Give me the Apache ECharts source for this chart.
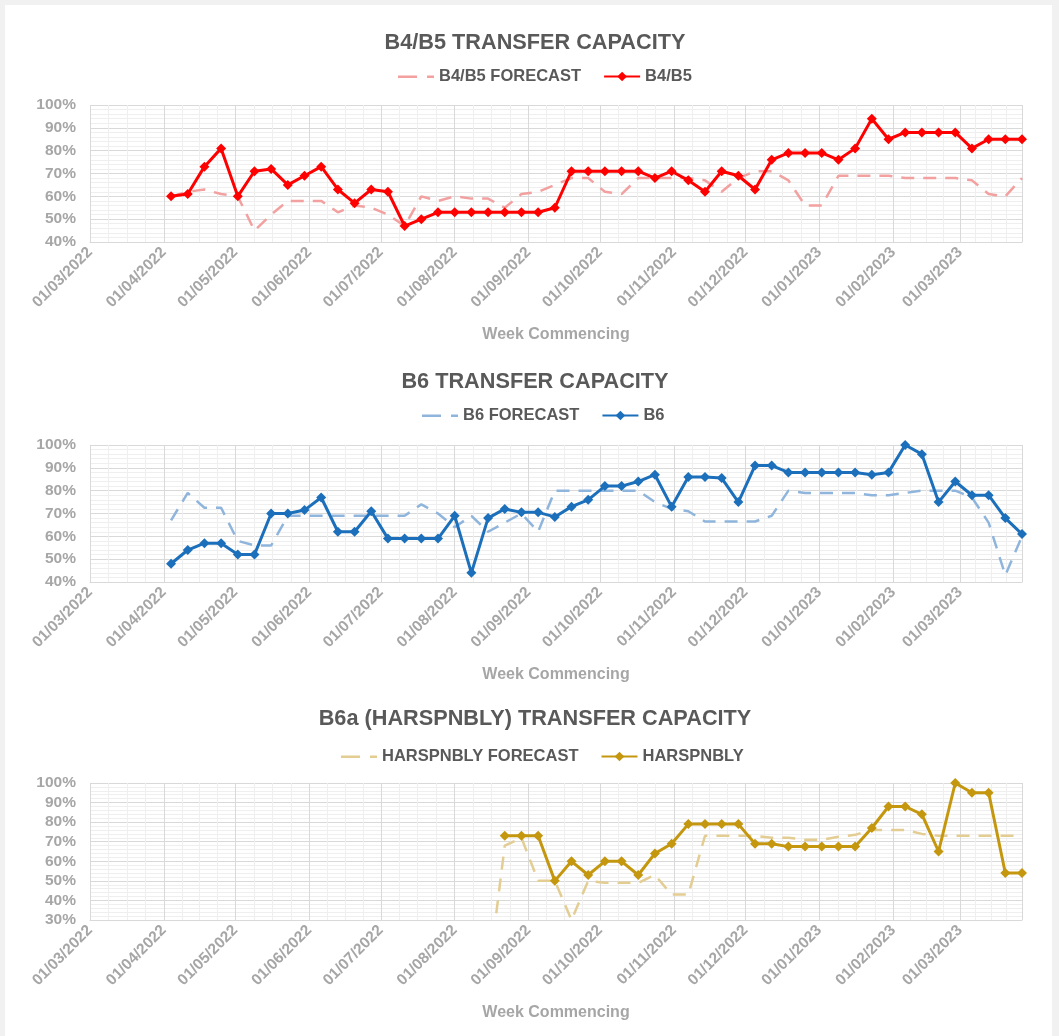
<!DOCTYPE html>
<html>
<head>
<meta charset="utf-8">
<script src="https://cdn.jsdelivr.net/npm/echarts@6/dist/echarts.min.js"></script>
<style>
  html, body { margin: 0; padding: 0; background: #f1f1f1; }
  #frame { position: absolute; left: 5px; top: 5px; width: 1047px; height: 1031px; background: #ffffff; }
  #chart { position: absolute; left: 0; top: 0; width: 1059px; height: 1036px; }
</style>
</head>
<body>
<div id="frame"></div>
<div id="chart"></div>
<script>
// ---- data (week commencing, Mondays) ----
const weekDates = [
  '2022-04-04','2022-04-11','2022-04-18','2022-04-25','2022-05-02','2022-05-09','2022-05-16','2022-05-23','2022-05-30',
  '2022-06-06','2022-06-13','2022-06-20','2022-06-27','2022-07-04','2022-07-11','2022-07-18','2022-07-25',
  '2022-08-01','2022-08-08','2022-08-15','2022-08-22','2022-08-29','2022-09-05','2022-09-12','2022-09-19','2022-09-26',
  '2022-10-03','2022-10-10','2022-10-17','2022-10-24','2022-10-31','2022-11-07','2022-11-14','2022-11-21','2022-11-28',
  '2022-12-05','2022-12-12','2022-12-19','2022-12-26','2023-01-02','2023-01-09','2023-01-16','2023-01-23','2023-01-30',
  '2023-02-06','2023-02-13','2023-02-20','2023-02-27','2023-03-06','2023-03-13','2023-03-20','2023-03-27'
];

const b45Forecast = [60,62,63,61,60,45,52,58,58,58,53,56,55,52,47,60,58,60,59,59,55,61,62,65,68,68,62,61,68,68,68,68,67,62,68,71,71,67,56,56,69,69,69,69,68,68,68,68,67,61,60,68];
const b45Actual   = [60,61,73,81,60,71,72,65,69,73,63,57,63,62,47,50,53,53,53,53,53,53,53,55,71,71,71,71,71,68,71,67,62,71,69,63,76,79,79,79,76,81,94,85,88,88,88,88,81,85,85,85];

const b6Forecast  = [67,79,72.5,72.5,58,56,56,69,69,69,69,69,69,69,69,74,70,64,69,62,66,70,62,80,80,80,80,80,80,75,72,71,66.5,66.5,66.5,66.5,69,80,79,79,79,79,78,78,79,80,80,80,77,66,43,60];
const b6Actual    = [48,54,57,57,52,52,70,70,71.5,77,62,62,71,59,59,59,59,69,44,68,72,70.5,70.5,68.5,73,76,82,82,84,87,73,86,86,85.5,75,91,91,88,88,88,88,88,87,88,100,96,75,84,78,78,68,61];

const harsForecast = [null,null,null,null,null,null,null,null,null,null,null,null,null,null,null,null,null,null,null,
  0,68,72,50,50,30,50,49,49,49,53,43,43,73,73,73,73,72,72,71,71,72.5,73.5,76,76,76,74,73,73,73,73,73,73];
const harsActual = [null,null,null,null,null,null,null,null,null,null,null,null,null,null,null,null,null,null,null,null,
  73,73,73,50,60,53,60,60,53,64,69,79,79,79,79,69,69,67.5,67.5,67.5,67.5,67.5,77,88,88,84,65,100,95,95,54,54];

const panelTitles = ['B4/B5 TRANSFER CAPACITY', 'B6 TRANSFER CAPACITY', 'B6a (HARSPNBLY) TRANSFER CAPACITY'];
const forecastNames = ['B4/B5 FORECAST', 'B6 FORECAST', 'HARSPNBLY FORECAST'];
const actualNames = ['B4/B5', 'B6', 'HARSPNBLY'];
const yMins = [40, 40, 30];
const xAxisName = 'Week Commencing';

// ---- styling ----
const FONT = 'Liberation Sans, Arial, sans-serif';
const actualColors = ['#ff0000', '#1c6fba', '#c4970f'];
const forecastColors = ['#f3a0a0', '#8fb5dc', '#e3cd92'];
const gridTops = [105, 445, 783];
const gridHeights = [137, 137, 137];
const titleTops = [27, 366, 703];
const legendTops = [63, 402, 743];
const legendLefts = [393, 417, 336];
// dashed legend icon ("— -"), bbox padded to the full item box
const dashIcon = 'path://M0,0M36,12M0,5H19V7.5H0ZM29,5H36V7.5H29Z';

function pair(dates, vals) { return dates.map((d, i) => [d, vals[i]]); }
const forecasts = [b45Forecast, b6Forecast, harsForecast];
const actuals = [b45Actual, b6Actual, harsActual];

function pad(n) { return n < 10 ? '0' + n : '' + n; }
const DAY = 86400000;

const option = {
  animation: false,
  title: panelTitles.map((t, i) => ({
    text: t, left: 530, textAlign: 'center', top: titleTops[i],
    textStyle: { fontFamily: FONT, fontSize: 21.7, fontWeight: 'bold', color: '#595959' }
  })),
  legend: [0, 1, 2].map(i => ({
    data: [
      { name: forecastNames[i], icon: dashIcon, itemStyle: { color: forecastColors[i] } },
      { name: actualNames[i] }
    ],
    left: legendLefts[i], top: legendTops[i], itemWidth: 36, itemHeight: 12, itemGap: 22,
    textStyle: { fontFamily: FONT, fontSize: 16.5, fontWeight: 'bold', color: '#595959' }
  })),
  grid: [0, 1, 2].map(i => ({ left: 90, right: 37, top: gridTops[i], height: gridHeights[i], containLabel: false })),
  xAxis: [0, 1, 2].map(i => ({
    type: 'time', gridIndex: i,
    min: +new Date(2022, 2, 1), max: +new Date(2023, 2, 27),
    splitNumber: 13, minInterval: 28 * DAY, maxInterval: 31 * DAY,
    name: xAxisName, nameLocation: 'middle', nameGap: 85,
    nameTextStyle: { fontFamily: FONT, fontSize: 16, fontWeight: 'bold', color: '#a6a6a6' },
    axisLine: { show: true, lineStyle: { color: '#d9d9d9' } },
    axisTick: { show: false },
    axisLabel: {
      rotate: 45, margin: 8, hideOverlap: false,
      fontFamily: FONT, fontSize: 15.5, fontWeight: 'bold', color: '#a6a6a6',
      formatter: v => { const d = new Date(v); return pad(d.getDate()) + '/' + pad(d.getMonth() + 1) + '/' + d.getFullYear(); }
    },
    splitLine: { show: true, lineStyle: { color: '#d9d9d9', width: 1 } },
    minorTick: { show: false, splitNumber: 4 },
    minorSplitLine: { show: true, lineStyle: { color: '#efefef', width: 1 } }
  })),
  yAxis: [0, 1, 2].map(i => ({
    type: 'value', gridIndex: i, min: yMins[i], max: 100, interval: 10,
    axisLine: { show: false }, axisTick: { show: false },
    axisLabel: { formatter: '{value}%', margin: 14, fontFamily: FONT, fontSize: 15.5, fontWeight: 'bold', color: '#a6a6a6' },
    splitLine: { show: true, lineStyle: { color: '#d9d9d9', width: 1 } },
    minorTick: { show: false, splitNumber: 5 },
    minorSplitLine: { show: true, lineStyle: { color: '#efefef', width: 1 } }
  })),
  series: []
};

[0, 1, 2].forEach(i => {
  option.series.push({
    name: forecastNames[i], type: 'line', xAxisIndex: i, yAxisIndex: i,
    data: pair(weekDates, forecasts[i]), symbol: 'none', connectNulls: false,
    lineStyle: { color: forecastColors[i], width: 2.5, type: [13, 9] },
    itemStyle: { color: forecastColors[i] }, z: 2
  });
  option.series.push({
    name: actualNames[i], type: 'line', xAxisIndex: i, yAxisIndex: i,
    data: pair(weekDates, actuals[i]), symbol: 'diamond', symbolSize: 10, showSymbol: true,
    lineStyle: { color: actualColors[i], width: 3 },
    itemStyle: { color: actualColors[i] }, z: 3
  });
});

const chart = echarts.init(document.getElementById('chart'), null, { renderer: 'canvas' });
chart.setOption(option);
</script>
</body>
</html>
